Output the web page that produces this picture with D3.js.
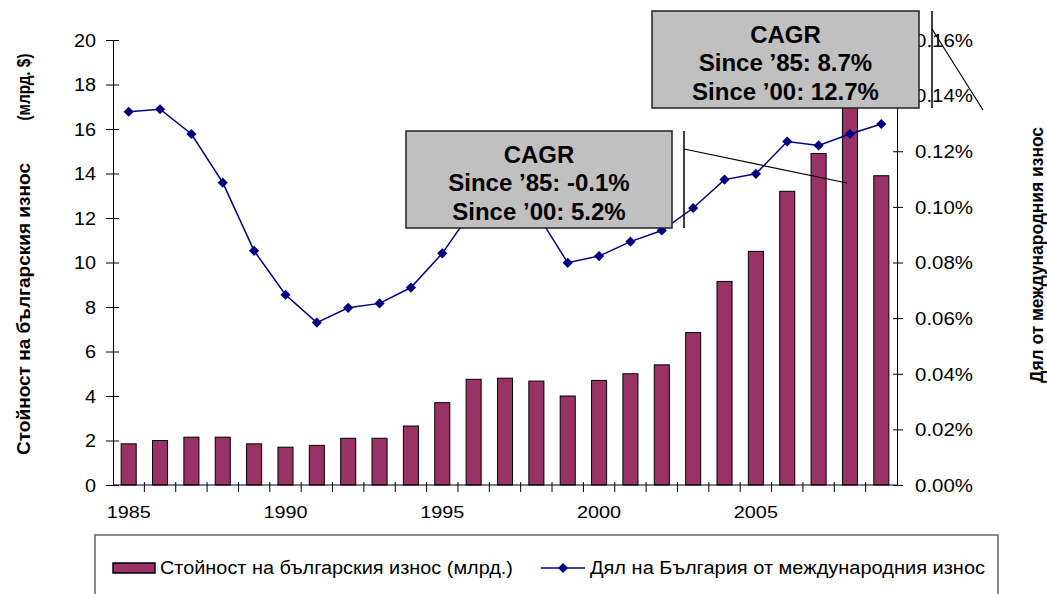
<!DOCTYPE html>
<html>
<head>
<meta charset="utf-8">
<script src="https://cdn.jsdelivr.net/npm/d3@7"></script>
<style>
  body { margin: 0; background: #fff; }
  svg { display: block; font-family: "Liberation Sans", Arial, sans-serif; }
</style>
</head>
<body>
<div id="chart"></div>
<script>
// data
const years = [1985, 1986, 1987, 1988, 1989, 1990, 1991, 1992, 1993, 1994, 1995, 1996,
  1997, 1998, 1999, 2000, 2001, 2002, 2003, 2004, 2005, 2006, 2007, 2008, 2009];
// export value, bn $
const exportsBn = [1.85, 2.0, 2.15, 2.15, 1.85, 1.7, 1.78, 2.1, 2.1, 2.65, 3.7, 4.75,
  4.8, 4.67, 4.0, 4.7, 5.0, 5.4, 6.85, 9.15, 10.5, 13.2, 14.9, 18.0, 13.9];
// share of world exports, %
const worldShare = [0.1342, 0.1351, 0.1262, 0.1087, 0.0842, 0.0684, 0.0584, 0.0637, 0.0653,
  0.0710, 0.0833, 0.0995, 0.1035, 0.0979, 0.0799, 0.0823, 0.0875, 0.0915, 0.0996, 0.1098,
  0.1119, 0.1235, 0.1221, 0.1262, 0.1298];
const leftTicks = [0, 2, 4, 6, 8, 10, 12, 14, 16, 18, 20];
const rightTicks = [0, 0.02, 0.04, 0.06, 0.08, 0.10, 0.12, 0.14, 0.16];
const yearLabels = [1985, 1990, 1995, 2000, 2005];
const seriesNames = ['Стойност на българския износ (млрд.)', 'Дял на България от международния износ'];
const cagrLow = ['CAGR', 'Since ’85: -0.1%', 'Since ’00: 5.2%'];
const cagrHigh = ['CAGR', 'Since ’85: 8.7%', 'Since ’00: 12.7%'];

const width = 1047;
const height = 594;
const plot = { left: 113, right: 897, top: 40, bottom: 485 };
const barColor = '#993366';
const lineColor = '#000080';

const svg = d3.select('#chart')
  .append('svg')
  .attr('width', width)
  .attr('height', height);

const rows = years.map((yr, i) => ({ year: yr, value: exportsBn[i], share: worldShare[i] }));

const x = d3.scaleBand().domain(years).range([plot.left, plot.right]).padding(0);
const step = x.bandwidth();
const barW = step * 0.48;
const y = d3.scaleLinear().domain([0, 20]).range([plot.bottom, plot.top]);
const y2 = d3.scaleLinear().domain([0, 0.16]).range([plot.bottom, plot.top]);

// stretch text horizontally a bit (the original renders wide digits)
function stretch(sel, k) {
  sel.each(function () {
    const len = this.getComputedTextLength();
    d3.select(this).attr('textLength', len * k).attr('lengthAdjust', 'spacingAndGlyphs');
  });
}

// bars
svg.append('g')
  .selectAll('rect')
  .data(rows)
  .join('rect')
    .attr('x', (d) => x(d.year) + (step - barW) / 2)
    .attr('y', (d) => y(d.value))
    .attr('width', barW)
    .attr('height', (d) => plot.bottom - y(d.value))
    .attr('fill', barColor)
    .attr('stroke', '#000')
    .attr('stroke-width', 1);

// left axis
const leftAxis = svg.append('g')
  .attr('transform', `translate(${plot.left},0)`)
  .call(d3.axisLeft(y).tickValues(leftTicks).tickSizeOuter(0));
leftAxis.select('.domain').attr('stroke', '#000');
leftAxis.selectAll('.tick line').attr('x1', -7).attr('x2', 6).attr('stroke', '#000');
leftAxis.selectAll('.tick text')
  .attr('x', -17)
  .attr('dy', '0.36em')
  .attr('font-size', 18)
  .attr('font-family', '"Liberation Sans", Arial, sans-serif')
  .attr('fill', '#000')
  .call(stretch, 1.1);

// right axis
const rightAxis = svg.append('g')
  .attr('transform', `translate(${plot.right},0)`)
  .call(d3.axisRight(y2).tickValues(rightTicks).tickSizeOuter(0)
    .tickFormat((d) => d.toFixed(2) + '%'));
rightAxis.select('.domain').attr('stroke', '#000');
rightAxis.selectAll('.tick line').attr('x1', -4).attr('x2', 6).attr('stroke', '#000');
rightAxis.selectAll('.tick text')
  .attr('x', 18)
  .attr('dy', '0.36em')
  .attr('font-size', 17.5)
  .attr('font-family', '"Liberation Sans", Arial, sans-serif')
  .attr('fill', '#000')
  .attr('textLength', 58)
  .attr('lengthAdjust', 'spacingAndGlyphs');

// category axis
const xAxis = svg.append('g');
xAxis.append('line')
  .attr('x1', plot.left).attr('x2', plot.right)
  .attr('y1', plot.bottom).attr('y2', plot.bottom)
  .attr('stroke', '#000');
xAxis.selectAll('line.tick')
  .data(years.slice(1))
  .join('line')
    .attr('class', 'tick')
    .attr('x1', (d) => x(d)).attr('x2', (d) => x(d))
    .attr('y1', plot.bottom - 3).attr('y2', plot.bottom + 7)
    .attr('stroke', '#000');
xAxis.selectAll('text')
  .data(yearLabels)
  .join('text')
    .attr('x', (d) => x(d) + step / 2)
    .attr('y', 518)
    .attr('text-anchor', 'middle')
    .attr('font-size', 16.5)
    .text((d) => d)
    .call(stretch, 1.2);

// share line
const line = d3.line()
  .x((d) => x(d.year) + step / 2)
  .y((d) => y2(d.share));
svg.append('path')
  .datum(rows)
  .attr('d', line)
  .attr('fill', 'none')
  .attr('stroke', lineColor)
  .attr('stroke-width', 1.5);
svg.append('g')
  .selectAll('path')
  .data(rows)
  .join('path')
    .attr('d', d3.symbol(d3.symbolSquare, 52))
    .attr('transform', (d) => `translate(${x(d.year) + step / 2},${y2(d.share)}) rotate(45)`)
    .attr('fill', lineColor);

// CAGR call-outs
function callout(lines, bx, by, bw, bh, barX, leader) {
  const g = svg.append('g');
  g.append('rect')
    .attr('x', bx).attr('y', by).attr('width', bw).attr('height', bh)
    .attr('fill', '#c0c0c0')
    .attr('stroke', '#222')
    .attr('stroke-width', 1.5);
  g.selectAll('text')
    .data(lines)
    .join('text')
      .attr('x', bx + bw / 2)
      .attr('y', (d, i) => by + 32 + i * 28.3)
      .attr('text-anchor', 'middle')
      .attr('font-size', 24)
      .attr('font-weight', 'bold')
      .attr('fill', '#000')
      .text((d) => d);
  g.append('line')
    .attr('x1', barX).attr('x2', barX)
    .attr('y1', by).attr('y2', by + bh)
    .attr('stroke', '#000').attr('stroke-width', 1.5);
  g.append('line')
    .attr('x1', leader[0]).attr('y1', leader[1])
    .attr('x2', leader[2]).attr('y2', leader[3])
    .attr('stroke', '#000').attr('stroke-width', 1.2);
}
callout(cagrLow, 406, 131, 266, 97, 684, [684, 149, 847, 183]);
callout(cagrHigh, 652, 11, 267, 97, 932, [932, 29, 983, 110]);

// axis titles
function vTitle(txt, cx, cy, len) {
  svg.append('text')
    .attr('transform', `translate(${cx},${cy}) rotate(-90)`)
    .attr('text-anchor', 'middle')
    .attr('font-size', 19)
    .attr('font-weight', 'bold')
    .attr('fill', '#000')
    .attr('textLength', len)
    .attr('lengthAdjust', 'spacingAndGlyphs')
    .text(txt);
}
vTitle('Стойност на българския износ', 30, 309, 292);
vTitle('(млрд.  $)', 30, 87, 67);
vTitle('Дял от международния износ', 1043, 255, 256);

// legend
const legend = svg.append('g');
legend.append('rect')
  .attr('x', 95).attr('y', 535).attr('width', 903).attr('height', 80)
  .attr('fill', '#fff')
  .attr('stroke', '#666')
  .attr('stroke-width', 1.5);
legend.append('rect')
  .attr('x', 113).attr('y', 563).attr('width', 42).attr('height', 10)
  .attr('fill', barColor).attr('stroke', '#000').attr('stroke-width', 1.5);
legend.append('line')
  .attr('x1', 541).attr('x2', 585).attr('y1', 568).attr('y2', 568)
  .attr('stroke', lineColor).attr('stroke-width', 1.5);
legend.append('path')
  .attr('d', d3.symbol(d3.symbolSquare, 52))
  .attr('transform', 'translate(563,568) rotate(45)')
  .attr('fill', lineColor);
legend.selectAll('text.item')
  .data(seriesNames)
  .join('text')
    .attr('class', 'item')
    .attr('x', (d, i) => i === 0 ? 160 : 590)
    .attr('y', 574)
    .attr('font-size', 18)
    .attr('fill', '#000')
    .attr('textLength', (d, i) => i === 0 ? 353 : 395)
    .attr('lengthAdjust', 'spacingAndGlyphs')
    .text((d) => d);
</script>
</body>
</html>
